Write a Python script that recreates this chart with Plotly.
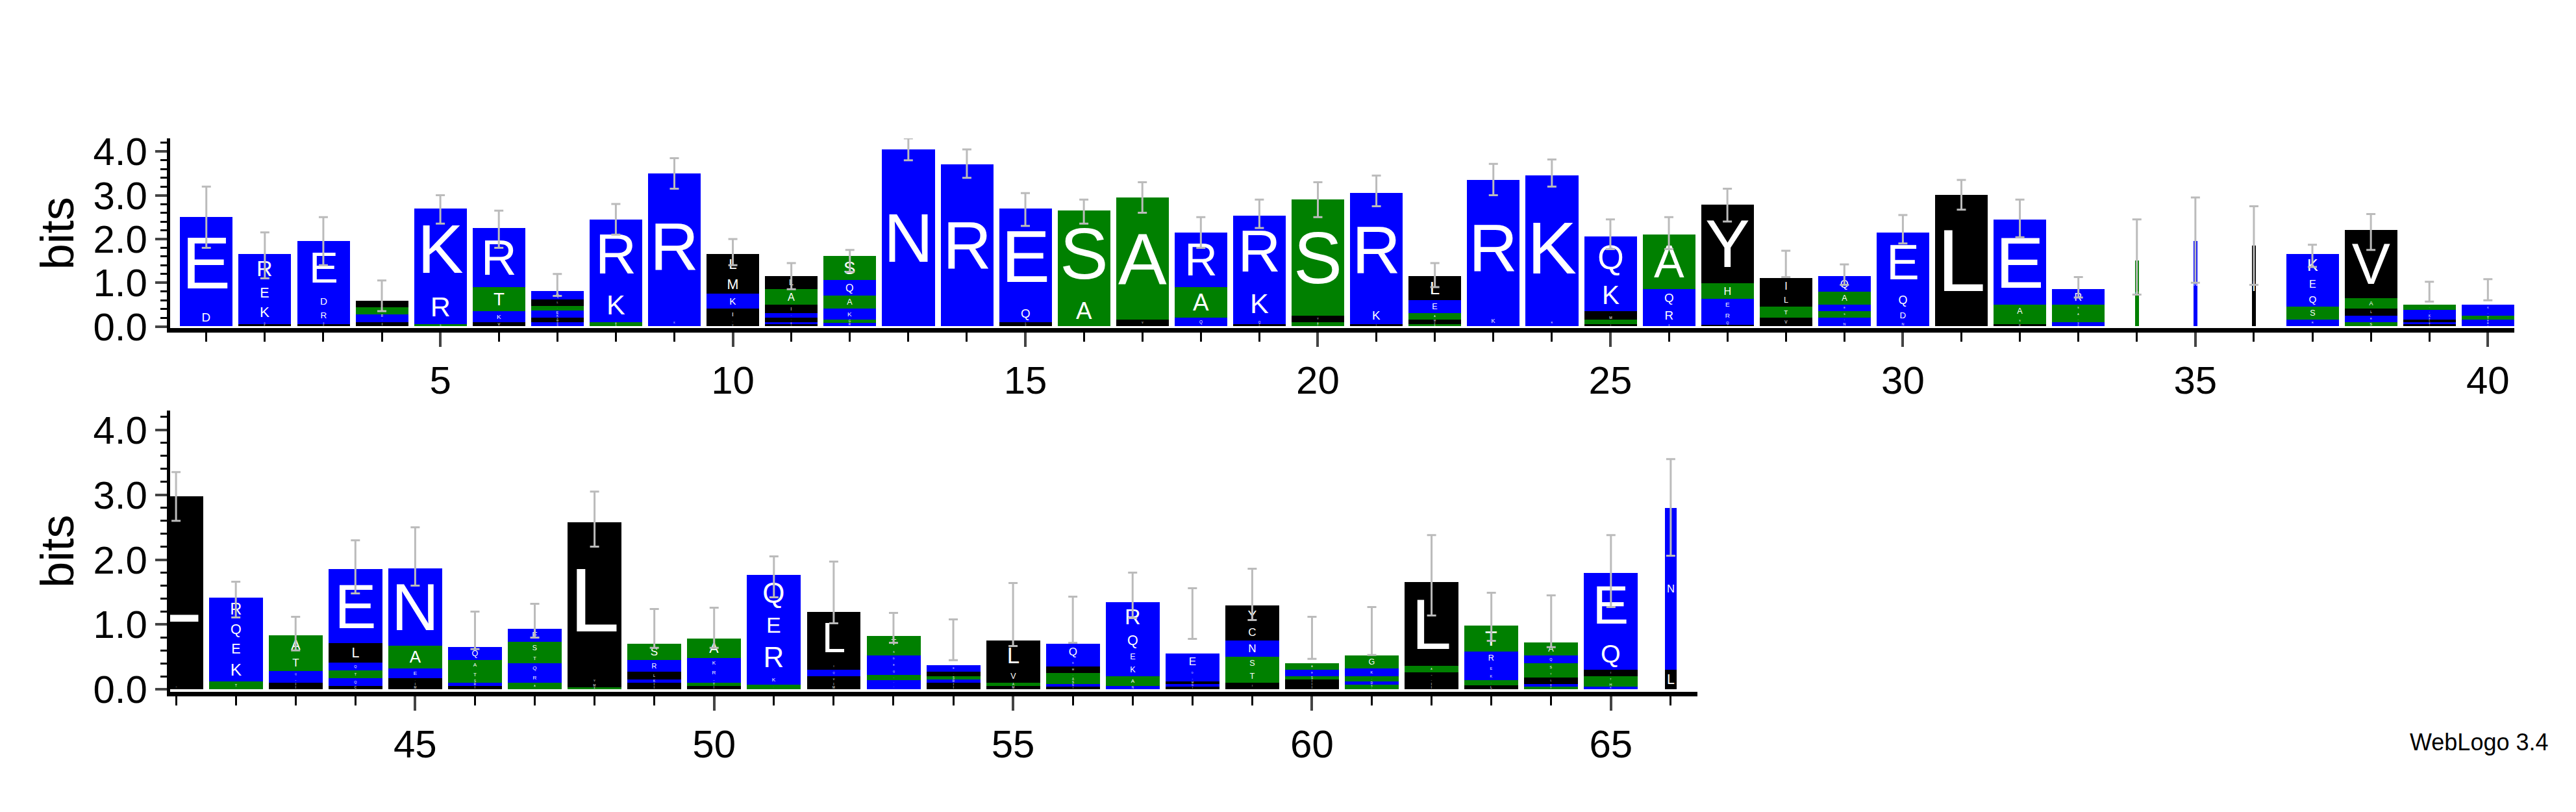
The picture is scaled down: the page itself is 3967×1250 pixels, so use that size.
import plotly.graph_objects as go
from plotly.subplots import make_subplots

# sequence logo data: letters listed bottom -> top, heights in bits
positions = list(range(1, 67))
letters = [
    "DE", "PDKER", "FKRDE", "IDRAL", "GRK", "VKTR", "NRMVKEALQ", "SAKR", "KR", "VPIKML",
    "IEVQIAL", "RGKAQS", "N", "R", "VLQE", "AS", "VA", "QAR", "LQKR", "TAYS",
    "IKR", "SVMAEL", "KR", "RK", "IAMLKQ", "KRQA", "IQREHY", "VTLI", "NDSEAQ", "NDQE",
    "L", "WSAE", "DNTASR", "S", "N", "I", "RSQEK", "SRLAV", "IELEKQA", "ERETQK",
    "ML", "TKEQR", "IIEQTA", "CQTQLE", "MIVEAN", "IRSTAQ", "ARQTSE", "AMVL", "IIKLRS", "ITDRKA",
    "AKREQ", "MIVQIL", "NKAQEDST", "IIRSLE", "MAVL", "INSATMKQ", "NAKEQR", "INMKDE", "ITSNCY", "IIISEA",
    "TSDAKG", "IIVMAL", "LAKERT", "TELTSQA", "KHTIQE", "LN",
]
heights = [
    [0.4, 2.1], [0.05, 0.05, 0.45, 0.45, 0.65], [0.05, 0.05, 0.3, 0.35, 1.2], [0.1, 0.1, 0.08, 0.15, 0.15],
    [0.05, 0.8, 1.85], [0.1, 0.25, 0.55, 1.35], [0.05, 0.05, 0.05, 0.05, 0.08, 0.08, 0.1, 0.15, 0.2],
    [0.05, 0.05, 0.8, 1.55], [0.15, 3.35], [0.05, 0.1, 0.25, 0.35, 0.45, 0.45],
    [0.05, 0.05, 0.1, 0.1, 0.2, 0.35, 0.3], [0.08, 0.08, 0.25, 0.3, 0.35, 0.55], [4.05], [3.7],
    [0.05, 0.05, 0.4, 2.2], [0.7, 1.95], [0.15, 2.8], [0.2, 0.7, 1.25], [0.05, 0.08, 0.8, 1.6],
    [0.05, 0.05, 0.15, 2.65], [0.05, 0.4, 2.6], [0.05, 0.05, 0.05, 0.15, 0.3, 0.55], [0.25, 3.1],
    [0.15, 3.3], [0.05, 0.1, 0.1, 0.1, 0.75, 0.95], [0.05, 0.4, 0.4, 1.25],
    [0.03, 0.1, 0.25, 0.25, 0.35, 1.8], [0.2, 0.25, 0.3, 0.35], [0.1, 0.1, 0.15, 0.15, 0.3, 0.35],
    [0.1, 0.3, 0.4, 1.35], [3.0], [0.05, 0.15, 0.3, 1.95], [0.05, 0.05, 0.1, 0.15, 0.15, 0.35],
    [1.5], [1.95], [1.85], [0.15, 0.3, 0.35, 0.35, 0.5], [0.1, 0.15, 0.15, 0.25, 1.55],
    [0.05, 0.05, 0.05, 0.05, 0.08, 0.1, 0.12], [0.03, 0.06, 0.06, 0.1, 0.1, 0.15],
    [0.08, 2.9], [0.12, 0.35, 0.3, 0.3, 0.35], [0.05, 0.05, 0.08, 0.1, 0.25, 0.3],
    [0.05, 0.12, 0.12, 0.12, 0.3, 1.15], [0.05, 0.05, 0.07, 0.15, 0.35, 1.2],
    [0.05, 0.05, 0.05, 0.15, 0.15, 0.2], [0.1, 0.15, 0.15, 0.15, 0.18, 0.2], [0.03, 0.05, 0.1, 2.4],
    [0.05, 0.05, 0.05, 0.12, 0.18, 0.25], [0.05, 0.05, 0.08, 0.15, 0.15, 0.3],
    [0.07, 0.15, 0.55, 0.45, 0.55], [0.05, 0.05, 0.1, 0.1, 0.1, 0.8],
    [0.07, 0.07, 0.08, 0.1, 0.1, 0.1, 0.1, 0.2], [0.05, 0.05, 0.05, 0.05, 0.07, 0.1],
    [0.05, 0.05, 0.2, 0.45], [0.04, 0.04, 0.05, 0.05, 0.07, 0.1, 0.1, 0.25],
    [0.05, 0.15, 0.2, 0.2, 0.3, 0.45], [0.04, 0.04, 0.04, 0.08, 0.1, 0.25, 0.3],
    [0.1, 0.2, 0.2, 0.25, 0.25, 0.3], [0.05, 0.05, 0.05, 0.05, 0.1, 0.1],
    [0.03, 0.04, 0.05, 0.08, 0.12, 0.2], [0.05, 0.05, 0.08, 0.08, 0.1, 1.3],
    [0.06, 0.08, 0.12, 0.12, 0.2, 0.4], [0.04, 0.04, 0.1, 0.1, 0.12, 0.12, 0.2],
    [0.04, 0.06, 0.1, 0.1, 0.5, 1.0], [0.3, 2.5],
]
err_hi = [3.2, 2.15, 2.5, 1.05, 3.0, 2.65, 1.2, 2.8, 3.85, 2.0, 1.45, 1.75, 4.3, 4.05, 3.05, 2.9,
          3.3, 2.5, 2.9, 3.3, 3.45, 1.45, 3.72, 3.82, 2.45, 2.5, 3.15, 1.73, 1.42, 2.55, 3.35, 2.9,
          1.13, 2.45, 2.95, 2.75, 1.87, 2.57, 1.02, 1.08,
          3.35, 1.66, 1.12, 2.3, 2.5, 1.2, 1.32, 3.05, 1.24, 1.26, 2.05, 1.97, 1.18, 1.08, 1.64,
          1.43, 1.8, 1.56, 1.86, 1.12, 1.27, 2.38, 1.49, 1.45, 2.38, 3.55]
err_lo = [1.8, 1.1, 1.4, 0.35, 2.35, 1.8, 0.7, 2.1, 3.15, 1.4, 0.85, 1.25, 3.8, 3.4, 2.3, 2.35,
          2.6, 1.8, 2.25, 2.5, 2.75, 0.9, 3.0, 3.2, 1.77, 1.77, 2.4, 1.13, 0.95, 1.9, 2.67, 2.04,
          0.66, 0.73, 1.0, 0.95, 1.36, 1.75, 0.57, 0.6,
          2.6, 1.11, 0.6, 1.48, 1.6, 0.62, 0.8, 2.2, 0.64, 0.64, 1.42, 1.02, 0.72, 0.45, 0.67,
          0.72, 1.1, 0.78, 1.07, 0.47, 0.53, 1.14, 0.75, 0.65, 1.27, 2.06]
col_widths = {34: 0.06, 35: 0.06, 36: 0.06, 66: 0.2}

BLUE, GREEN, BLACK = "#0000ff", "#008000", "#000000"
colour_of = {}
for aa in "RKDENQ":
    colour_of[aa] = BLUE
for aa in "STAGH":
    colour_of[aa] = GREEN
for aa in "LIVMFWPYC":
    colour_of[aa] = BLACK

fig = make_subplots(rows=2, cols=1, vertical_spacing=0.1)


def add_panel(pos_list, row):
    max_depth = max(len(letters[p - 1]) for p in pos_list)
    cum = {p: 0.0 for p in pos_list}
    for k in range(max_depth):
        xs, ys, bs, txt, cols, ws = [], [], [], [], [], []
        for p in pos_list:
            seq = letters[p - 1]
            if k < len(seq):
                h = heights[p - 1][k]
                xs.append(p)
                ys.append(h)
                bs.append(cum[p])
                txt.append(seq[k])
                cols.append(colour_of.get(seq[k], BLACK))
                ws.append(col_widths.get(p, 0.9))
                cum[p] += h
        fig.add_trace(go.Bar(
            x=xs, y=ys, base=bs, width=ws, text=txt, marker_color=cols,
            marker_line_width=0, textposition="inside", insidetextanchor="middle",
            textangle=0, constraintext="inside",
            textfont=dict(color="white", size=200, family="Liberation Sans"),
            hoverinfo="skip", showlegend=False), row=row, col=1)
    mid = [(err_hi[p - 1] + err_lo[p - 1]) / 2 for p in pos_list]
    half = [(err_hi[p - 1] - err_lo[p - 1]) / 2 for p in pos_list]
    fig.add_trace(go.Scatter(
        x=pos_list, y=mid, mode="markers", marker=dict(size=1, opacity=0),
        error_y=dict(type="data", array=half, color="#bbbbbb", thickness=3, width=7),
        hoverinfo="skip", showlegend=False), row=row, col=1)


add_panel(positions[:40], 1)
add_panel(positions[40:], 2)

axis_font = dict(family="Liberation Sans", size=60, color="black")
for row, xr, dom in [(1, [0.38, 40.45], [0.064, 0.974]), (2, [40.9, 66.45], [0.064, 0.657])]:
    fig.update_xaxes(range=xr, domain=dom, tickmode="linear", tick0=0, dtick=5,
                     ticks="outside", ticklen=22, tickwidth=4, showline=True, linewidth=7,
                     linecolor="black", showgrid=False, zeroline=False, tickfont=axis_font,
                     minor=dict(ticks="outside", dtick=1, ticklen=14, tickwidth=3,
                                tickcolor="black", showgrid=False),
                     row=row, col=1)
    fig.update_yaxes(range=[-0.04, 4.3], tickmode="linear", tick0=0, dtick=1, tickformat=".1f",
                     ticks="outside", ticklen=18, tickwidth=4, showline=True, linewidth=5,
                     linecolor="black", showgrid=False, zeroline=False, tickfont=axis_font,
                     title=dict(text="bits", font=dict(family="Liberation Sans", size=72, color="black"),
                                standoff=8),
                     minor=dict(ticks="outside", dtick=0.2, ticklen=10, tickwidth=3,
                                tickcolor="black", showgrid=False),
                     row=row, col=1)
fig.update_yaxes(domain=[0.598, 0.84], row=1, col=1)
fig.update_yaxes(domain=[0.134, 0.493], row=2, col=1)

fig.add_annotation(text="WebLogo 3.4", xref="paper", yref="paper", x=0.988, y=0.07,
                   xanchor="right", yanchor="middle", showarrow=False,
                   font=dict(family="Liberation Sans", size=36, color="black"))

fig.update_layout(width=3967, height=1250, barmode="overlay", bargap=0,
                  plot_bgcolor="white", paper_bgcolor="white",
                  margin=dict(l=0, r=0, t=0, b=0))

fig.write_html("out.html")
